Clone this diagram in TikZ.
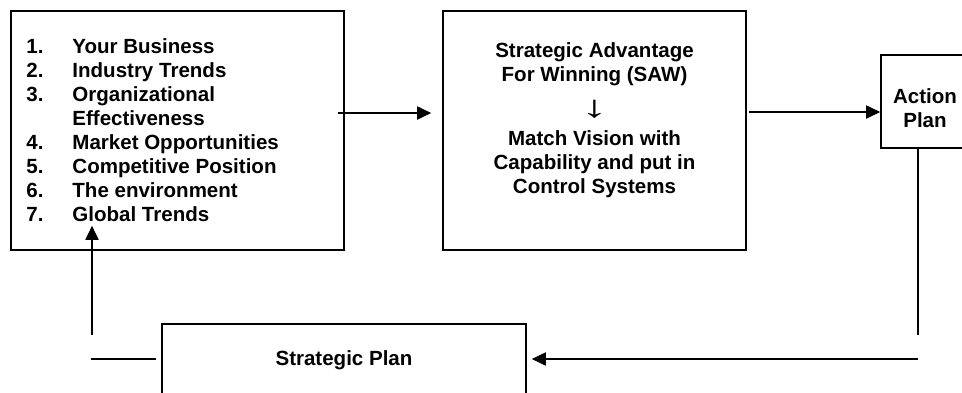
\documentclass[tikz,border=0pt]{standalone}
\usepackage{fontspec}
\usepackage{graphicx}
\setmainfont{Liberation Sans}
\usetikzlibrary{arrows.meta, positioning}

% numero de la lista con sangria fija
\newcommand{\numitem}[1]{\makebox[1.15cm][l]{#1}}

\begin{document}
\begin{tikzpicture}[
    % Definición global de estilos
    base/.style = {font=\bfseries\fontsize{14.6}{17.1}\selectfont},
    caja/.style = {draw=black, line width=1.2pt, rectangle, inner sep=0pt},
    texto/.style = {base, inner sep=0pt},
    linea/.style = {line width=0.9pt},
    flecha/.style = {linea, -{Triangle[length=0.35cm, width=0.33cm]}}
]
\useasboundingbox (0,0) rectangle (24.05,9.8);
\clip (0,0) rectangle (24.05,9.8);

% ===============================
% 1. Cajas
% ===============================
\node (fact) [caja, minimum width=8.325cm, minimum height=5.975cm] at (4.4375,6.5375) {};
\node (saw) [caja, minimum width=7.575cm, minimum height=5.975cm] at (14.8625,6.5375) {};
\node (accion) [caja, minimum width=2.2cm, minimum height=2.325cm] at (23.125,7.2625) {};
\node (plan) [caja, base, minimum width=9.1cm, minimum height=1.8cm] at (8.6,0.8) {Strategic Plan};

% ===============================
% 2. Textos
% ===============================
\node (lista) [texto, align=left, below right=0.7cm and 0.4cm of fact.north west] {%
    \numitem{1.}Your Business\\
    \numitem{2.}Industry Trends\\
    \numitem{3.}Organizational\\
    \numitem{}Effectiveness\\
    \numitem{4.}Market Opportunities\\
    \numitem{5.}Competitive Position\\
    \numitem{6.}The environment\\
    \numitem{7.}Global Trends};

\node (sawtxt) [texto, align=center, below=0.8cm of saw.north] {Strategic Advantage\\ For Winning (SAW)\\[0.3cm] \scalebox{2.6}[1.5]{\mdseries ↓}\\[0.1cm] Match Vision with\\ Capability and put in\\ Control Systems};

\node (acctxt) [texto, align=center, below=0.85cm of accion.north] {Action\\ Plan};

% ===============================
% 3. Puntos libres de las líneas
% ===============================
\coordinate (salF) at (8.45,6.975);
\coordinate (salS) at (18.725,7.0);
\coordinate (esqA) at (22.95,1.425);
\coordinate (esqB) at (22.95,0.825);
\coordinate (esqC) at (2.275,0.825);
\coordinate (esqD) at (2.3,1.425);

% ===============================
% 4. Trazado de flechas
% ===============================
\draw [flecha, shorten >=0.275cm] (salF) -- (salF -| saw.west);
\draw [flecha] (salS) -- (salS -| accion.west);
\draw [linea] (esqA |- accion.south) -- (esqA);
\draw [flecha, shorten >=0.125cm] (esqB) -- (esqB -| plan.east);
\draw [linea, shorten >=0.125cm] (esqC) -- (esqC -| plan.west);
\draw [flecha] (esqD) -- ([yshift=0.625cm]fact.south -| esqD);

\end{tikzpicture}
\end{document}
